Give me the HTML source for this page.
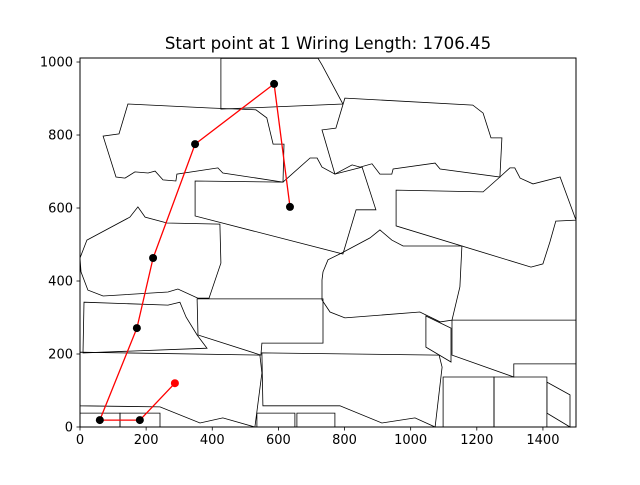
<!DOCTYPE html>
<html><head><meta charset="utf-8"><style>
body{margin:0;background:#fff}
svg text{font-family:"DejaVu Sans","Liberation Sans",sans-serif;fill:#000}
</style></head><body>
<svg id="chart" width="640" height="480" xmlns="http://www.w3.org/2000/svg">
<rect width="640" height="480" fill="#fff"/>
<text x="328" y="49" font-size="16.6" text-anchor="middle">Start point at 1 Wiring Length: 1706.45</text>
<g id="plot"></g>
</svg>
<script>
const xTicks=[0,200,400,600,800,1000,1200,1400];
const yTicks=[0,200,400,600,800,1000];
const pathX=[287,181,60,172,221,348,587,635];
const pathY=[120,19,19,271,463,775,940,603];
const modules=[
[[426,1010],[720,1010],[732,992],[795,885],[426,871]],
[[145,885],[393,874],[532,869],[565,847],[584,775],[617,775],[614,671],[432,696],[417,710],[293,693],[290,674],[251,677],[227,701],[206,696],[166,699],[136,682],[109,685],[70,797],[118,803]],
[[348,674],[614,671],[696,737],[717,737],[732,712],[771,693],[853,712],[895,595],[835,595],[795,474],[348,578]],
[[801,901],[1188,882],[1219,860],[1243,792],[1276,792],[1270,685],[1089,707],[1074,723],[947,707],[943,693],[907,693],[883,721],[847,712],[823,718],[771,693],[732,814],[774,819]],
[[956,649],[1219,644],[1270,685],[1300,710],[1315,710],[1331,682],[1370,666],[1452,685],[1500,567],[1439,564],[1421,507],[1400,447],[1364,438],[956,551]],
[[21,512],[151,575],[175,603],[197,575],[263,559],[423,556],[426,449],[390,353],[357,353],[296,378],[266,370],[70,359],[24,375],[3,425],[0,463]],
[[12,342],[266,334],[302,342],[321,301],[354,252],[384,216],[9,203]],
[[354,351],[735,351],[735,230],[550,230],[547,197],[357,252]],
[[0,205],[544,197],[550,148],[529,0],[432,25],[363,11],[242,55],[0,58]],
[[0,38],[121,38],[121,0],[0,0]],
[[121,38],[242,38],[242,0],[121,0]],
[[535,38],[650,38],[650,0],[535,0]],
[[656,38],[771,38],[771,0],[656,0]],
[[550,203],[1086,197],[1095,164],[1074,0],[1013,25],[913,11],[786,58],[553,58]],
[[735,425],[750,458],[792,477],[877,518],[907,540],[943,512],[977,496],[1155,496],[1149,384],[1125,293],[1089,288],[1028,315],[801,299],[756,315],[732,348],[732,403]],
[[1046,304],[1122,271],[1122,178],[1046,219]],
[[1125,293],[1500,293],[1500,173],[1312,173],[1312,137],[1125,197]],
[[1098,137],[1252,137],[1252,0],[1098,0]],
[[1252,137],[1412,137],[1412,0],[1252,0]],
[[1412,123],[1482,88],[1482,0],[1412,38]]
];
const X0=80,X1=576,Y0=427,Y1=58,XMAX=1500,YMAX=1011;
function sx(v){return X0+v/XMAX*(X1-X0);}
function sy(v){return Y0-v/YMAX*(Y0-Y1);}
const NS="http://www.w3.org/2000/svg";
const g=document.getElementById('plot');
function mk(t,a){const e=document.createElementNS(NS,t);for(const k in a)e.setAttribute(k,a[k]);g.appendChild(e);return e;}
modules.forEach((m,i)=>{
  const p=mk('polygon',{points:m.map(q=>sx(q[0]).toFixed(1)+','+sy(q[1]).toFixed(1)).join(' '),fill:'none',stroke:'#000','stroke-width':0.8});
  
  
});
const line=mk('polyline',{points:pathX.map((x,i)=>sx(x).toFixed(1)+','+sy(pathY[i]).toFixed(1)).join(' '),fill:'none',stroke:'#ff0000','stroke-width':1.3});


pathX.forEach((x,i)=>{
  const c=mk('circle',{cx:sx(x),cy:sy(pathY[i]),r:4,fill:i===0?'#ff0000':'#000'});
  
  
});
const fr=mk('rect',{x:X0,y:Y1,width:X1-X0,height:Y0-Y1,fill:'none',stroke:'#000','stroke-width':1});


xTicks.forEach(t=>{
  const l=mk('line',{x1:sx(t),x2:sx(t),y1:Y0,y2:Y0+3.5,stroke:'#000','stroke-width':0.8});
  
  
  const tx=mk('text',{x:sx(t),y:Y0+17,'font-size':13,'text-anchor':'middle'});
  tx.textContent=t;
  
  
});
yTicks.forEach(t=>{
  const l=mk('line',{x1:X0-3.5,x2:X0,y1:sy(t),y2:sy(t),stroke:'#000','stroke-width':0.8});
  
  
  const tx=mk('text',{x:X0-7,y:sy(t)+4.5,'font-size':13,'text-anchor':'end'});
  tx.textContent=t;
  
  
});
</script>
</body></html>
